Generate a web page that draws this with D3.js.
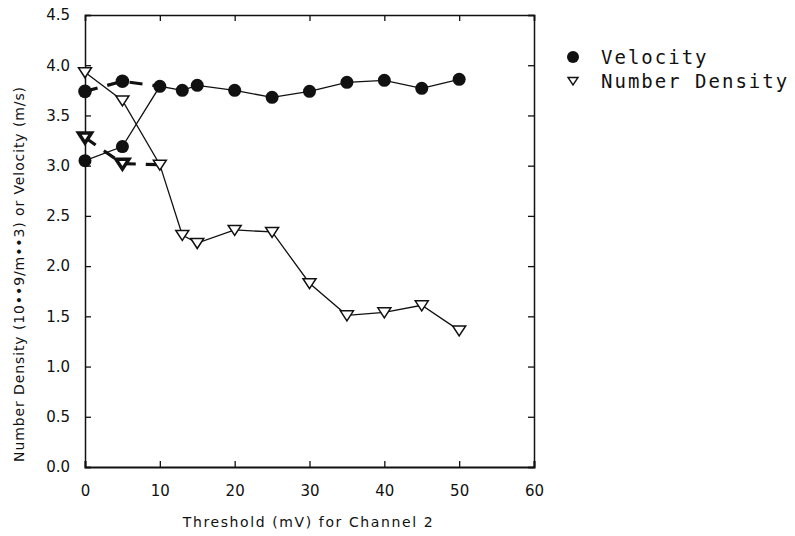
<!DOCTYPE html>
<html><head><meta charset="utf-8">
<script src="https://cdn.jsdelivr.net/npm/d3@7"></script>
<style>
html,body{margin:0;padding:0;background:#fff;}
svg{display:block;}
text{fill:#111;}
</style></head>
<body>
<script>
// ---- data ----
const thresholds = [0, 5, 10, 13, 15, 20, 25, 30, 35, 40, 45, 50];
const velocity   = [3.05, 3.19, 3.79, 3.75, 3.80, 3.75, 3.68, 3.74, 3.83, 3.85, 3.77, 3.86];
const density    = [3.93, 3.65, 3.01, 2.31, 2.23, 2.36, 2.34, 1.83, 1.51, 1.54, 1.61, 1.36];
const altThresholds = [0, 5, 10];
const velocityAlt   = [3.74, 3.84, 3.79];
const densityAlt    = [3.28, 3.02, 3.01];
const xTicks = [0, 10, 20, 30, 40, 50, 60];
const yTicks = [0.0, 0.5, 1.0, 1.5, 2.0, 2.5, 3.0, 3.5, 4.0, 4.5];
const legendLabels = ["Velocity", "Number Density"];
const xTitle = "Threshold (mV) for Channel 2";
const yTitle = "Number Density (10\u2022\u20229/m\u2022\u20223) or Velocity (m/s)";

const W = 795, H = 536;
const svg = d3.select("body").append("svg").attr("width", W).attr("height", H);
const x = d3.scaleLinear().domain([0, 60]).range([85, 534]);
const y = d3.scaleLinear().domain([0, 4.5]).range([467, 15]);

const ff = "'DejaVu Sans', sans-serif";
const tk = 6;

// axes
const gL = svg.append("g").attr("transform", `translate(${x(0)},0)`)
  .call(d3.axisLeft(y).tickValues(yTicks).tickSize(-tk).tickPadding(9 + tk).tickFormat(d3.format(".1f")));
const gB = svg.append("g").attr("transform", `translate(0,${y(0)})`)
  .call(d3.axisBottom(x).tickValues(xTicks).tickSize(-tk).tickPadding(12 + tk).tickFormat(d3.format("d")));
const gR = svg.append("g").attr("transform", `translate(${x(60)},0)`)
  .call(d3.axisRight(y).tickValues(yTicks).tickSize(-tk).tickFormat(""));
const gT = svg.append("g").attr("transform", `translate(0,${y(4.5)})`)
  .call(d3.axisTop(x).tickValues(xTicks).tickSize(-tk).tickFormat(""));
[gL, gB, gR, gT].forEach(g => {
  g.select(".domain").attr("stroke", "#111").attr("stroke-width", 1.5);
  g.selectAll(".tick line").attr("stroke", "#111").attr("stroke-width", 1.3);
  g.selectAll("text").attr("font-family", ff).attr("font-size", 15).attr("fill", "#111");
});
gB.select(".domain").attr("stroke-width", 2);

// line generators
const line = d3.line().x(d => x(d[0])).y(d => y(d[1]));
const zip = (a, b) => a.map((v, i) => [v, b[i]]);

svg.append("path").attr("d", line(zip(thresholds, density)))
  .attr("fill", "none").attr("stroke", "#111").attr("stroke-width", 1.3);
svg.append("path").attr("d", line(zip(thresholds, velocity)))
  .attr("fill", "none").attr("stroke", "#111").attr("stroke-width", 1.3);
svg.append("path").attr("d", line(zip(altThresholds, velocityAlt)))
  .attr("fill", "none").attr("stroke", "#111").attr("stroke-width", 3.2).attr("stroke-dasharray", "13,10");
svg.append("path").attr("d", line(zip(altThresholds, densityAlt)))
  .attr("fill", "none").attr("stroke", "#111").attr("stroke-width", 3.2).attr("stroke-dasharray", "13,10");

const tri = "M-6.5,-4.5L6.5,-4.5L0,5.5Z";

// markers
svg.append("g").selectAll("path").data(zip(thresholds, density)).join("path")
  .attr("d", tri).attr("transform", d => `translate(${x(d[0])},${y(d[1])})`)
  .attr("fill", "#fff").attr("stroke", "#111").attr("stroke-width", 1.5);
svg.append("g").selectAll("path").data(zip(altThresholds.slice(0, 2), densityAlt.slice(0, 2))).join("path")
  .attr("d", tri).attr("transform", d => `translate(${x(d[0])},${y(d[1])})`)
  .attr("fill", "#fff").attr("stroke", "#111").attr("stroke-width", 3.5);
svg.append("g").selectAll("circle").data(zip(thresholds, velocity)).join("circle")
  .attr("cx", d => x(d[0])).attr("cy", d => y(d[1])).attr("r", 6.5).attr("fill", "#111");
svg.append("g").selectAll("circle").data(zip(altThresholds.slice(0, 2), velocityAlt.slice(0, 2))).join("circle")
  .attr("cx", d => x(d[0])).attr("cy", d => y(d[1])).attr("r", 6.8).attr("fill", "#111");

// titles
svg.append("text").attr("x", (x(0) + x(60)) / 2 - 1).attr("y", 527)
  .attr("text-anchor", "middle").attr("font-family", ff).attr("font-size", 14)
  .attr("letter-spacing", 1.6).text(xTitle);
svg.append("text").attr("transform", `translate(24,${(y(0) + y(4.5)) / 2 + 33}) rotate(-90)`)
  .attr("text-anchor", "middle").attr("font-family", ff).attr("font-size", 14)
  .attr("letter-spacing", 0.9).text(yTitle);

// legend
const lg = svg.append("g");
lg.append("circle").attr("cx", 573).attr("cy", 57).attr("r", 6).attr("fill", "#111");
lg.append("path").attr("d", "M-5,-3.5L5,-3.5L0,4Z").attr("transform", "translate(573,81)")
  .attr("fill", "#fff").attr("stroke", "#111").attr("stroke-width", 1.4);
legendLabels.forEach((t, i) => {
  lg.append("text").attr("x", 601).attr("y", 64 + i * 24)
    .attr("font-family", "'DejaVu Sans Mono', monospace").attr("font-size", 19)
    .attr("letter-spacing", 2).text(t);
});
</script>
</body></html>
